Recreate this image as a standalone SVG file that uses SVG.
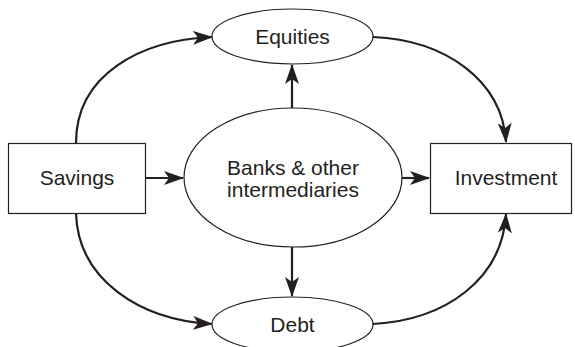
<svg xmlns="http://www.w3.org/2000/svg" width="575" height="347" viewBox="0 0 575 347">
<style>
text{font-family:"Liberation Sans",Arial,sans-serif;font-size:21px;fill:#231f20;text-anchor:middle}
.shape{fill:#fff;stroke:#231f20;stroke-width:1.2}
.conn path{fill:none;stroke:#231f20;stroke-width:2.2}
</style>
<defs>
<marker id="ah" viewBox="0 0 20 14" refX="19" refY="7" markerWidth="20" markerHeight="14" markerUnits="userSpaceOnUse" orient="auto">
<path d="M0,0 L20,7 L0,14 L5,7 Z" fill="#231f20"/>
</marker>
</defs>
<g class="conn">
<path d="M76,143 C76,75 140,40 212,37" marker-end="url(#ah)"/>
<path d="M373,37 C445,40 502,80 506,142" marker-end="url(#ah)"/>
<path d="M76,213 C78,280 140,320 212,324" marker-end="url(#ah)"/>
<path d="M373,324 C445,320 502,280 506,214" marker-end="url(#ah)"/>
<path d="M145,178 L183,178" marker-end="url(#ah)"/>
<path d="M402,178 L429,178" marker-end="url(#ah)"/>
<path d="M292,108 L292,65" marker-end="url(#ah)"/>
<path d="M292,247 L292,296" marker-end="url(#ah)"/>
</g>
<g id="savings">
<rect class="shape" x="8.5" y="143.5" width="137" height="70"/>
<text x="77" y="185">Savings</text>
</g>
<g id="investment">
<rect class="shape" x="430.5" y="143.5" width="141" height="70"/>
<text x="506" y="185">Investment</text>
</g>
<g id="banks">
<ellipse class="shape" cx="293" cy="177.5" rx="109" ry="69.5"/>
<text x="293" y="175">Banks &amp; other</text>
<text x="293" y="197">intermediaries</text>
</g>
<g id="equities">
<ellipse class="shape" cx="292.5" cy="36.5" rx="80.5" ry="27.5"/>
<text x="292.5" y="44">Equities</text>
</g>
<g id="debt">
<ellipse class="shape" cx="292.5" cy="324.5" rx="80.5" ry="27.5"/>
<text x="292.5" y="332">Debt</text>
</g>
</svg>
